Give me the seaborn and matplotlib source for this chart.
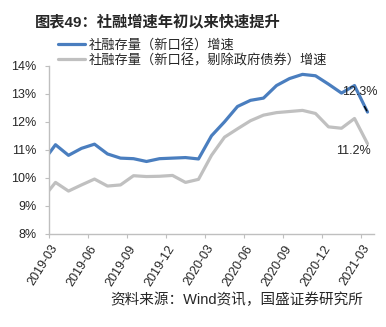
import numpy as np
import pandas as pd
import matplotlib
matplotlib.use("Agg")
import matplotlib.pyplot as plt
import seaborn as sns
from matplotlib.ticker import FixedLocator, FuncFormatter

months = [
    "2019-02", "2019-03", "2019-04", "2019-05", "2019-06", "2019-07", "2019-08",
    "2019-09", "2019-10", "2019-11", "2019-12", "2020-01", "2020-02", "2020-03",
    "2020-04", "2020-05", "2020-06", "2020-07", "2020-08", "2020-09", "2020-10",
    "2020-11", "2020-12", "2021-01", "2021-02", "2021-03",
]
tsf_growth = [
    10.55, 11.18, 10.80, 11.05, 11.20, 10.85, 10.70, 10.68, 10.58, 10.68, 10.70,
    10.72, 10.67, 11.50, 12.00, 12.55, 12.77, 12.85, 13.30, 13.55, 13.70, 13.65,
    13.35, 13.03, 13.30, 12.35,
]
tsf_ex_gov_growth = [
    9.25, 9.83, 9.52, 9.74, 9.95, 9.70, 9.74, 10.07, 10.04, 10.05, 10.08,
    9.83, 9.94, 10.80, 11.45, 11.75, 12.04, 12.24, 12.33, 12.37, 12.41, 12.30,
    11.82, 11.77, 12.12, 11.22,
]
tick_labels = ["2019-03", "2019-06", "2019-09", "2019-12", "2020-03",
               "2020-06", "2020-09", "2020-12", "2021-03"]
series_names = ["社融存量（新口径）增速", "社融存量（新口径，剔除政府债券）增速"]
end_labels = ["12.3%", "11.2%"]

title = "图表49：社融增速年初以来快速提升"
source = "资料来源：Wind资讯，国盛证券研究所"

BLUE = "#4a7ebf"
GRAY = "#c0c0c0"
SPINE = "#bfbfbf"

sns.set_theme(style="white")
plt.rcParams["font.family"] = ["Liberation Sans", "Noto Sans CJK SC", "DejaVu Sans"]

df = pd.DataFrame({
    "month": months,
    "pos": np.arange(len(months)),
    "a": tsf_growth,
    "b": tsf_ex_gov_growth,
})

fig = plt.figure(figsize=(3.86, 3.27), dpi=100)
ax = fig.add_axes([49 / 386, 1 - 233.5 / 327, 325 / 386, (233.5 - 66) / 327])

sns.lineplot(data=df, x="pos", y="a", ax=ax, color=BLUE, lw=2.3, label=series_names[0])
sns.lineplot(data=df, x="pos", y="b", ax=ax, color=GRAY, lw=2.3, label=series_names[1])

ax.set_xlim(0.5, len(months) - 0.5)
ax.set_ylim(8, 14)
ax.set_xlabel("")
ax.set_ylabel("")

label_pos = [months.index(m) for m in tick_labels]
boundary_pos = [p - 0.5 for p in label_pos]
ax.xaxis.set_major_locator(FixedLocator(boundary_pos))
ax.xaxis.set_major_formatter(FuncFormatter(lambda v, p: ""))
ax.xaxis.set_minor_locator(FixedLocator(label_pos))
ax.set_xticklabels(tick_labels, minor=True)
ax.tick_params(axis="x", which="major", length=3, width=0.8, color=SPINE, direction="out", bottom=True)
ax.tick_params(axis="x", which="minor", length=0, pad=9, labelsize=9, bottom=True)
for lab in ax.get_xticklabels(minor=True):
    lab.set_rotation(58)
    lab.set_ha("right")
    lab.set_va("center")
    lab.set_rotation_mode("anchor")

ax.set_yticks(np.arange(8, 15, 1))
ax.yaxis.set_major_formatter(FuncFormatter(lambda v, p: f"{v:.0f}%"))
ax.tick_params(axis="y", length=3, width=0.8, color=SPINE, direction="out", left=True, labelsize=9, pad=6)

for s in ["top", "right"]:
    ax.spines[s].set_visible(False)
for s in ["left", "bottom"]:
    ax.spines[s].set_color(SPINE)
    ax.spines[s].set_linewidth(1.0)
ax.grid(False)

last = len(months) - 1
ax.annotate(end_labels[0], xy=(last, tsf_growth[-1]), xytext=(-5.4, 14.2),
            textcoords="offset points", ha="center", va="center", fontsize=9,
            arrowprops=dict(arrowstyle="-", color="black", lw=1.0, shrinkA=4, shrinkB=1,
                            relpos=(0.5, 0.0)))
ax.annotate(end_labels[1], xy=(last, tsf_ex_gov_growth[-1]), xytext=(-10.4, -5.5),
            textcoords="offset points", ha="center", va="center", fontsize=9)

handles, labels = ax.get_legend_handles_labels()
ax.get_legend().remove()
fig.legend(handles, labels, loc="upper left", bbox_to_anchor=(57.5 / 386, 1 - 39 / 327),
           frameon=False, fontsize=9.5, handlelength=2.1, handletextpad=0.25,
           labelspacing=0.15, borderpad=0, borderaxespad=0)

fig.text(35 / 386, 1 - 23 / 327, title, fontsize=11, fontweight="bold", ha="left", va="center")
fig.text(363 / 386, 1 - 300 / 327, source, fontsize=10.5, ha="right", va="center")

fig.savefig("out.png", dpi=100)
